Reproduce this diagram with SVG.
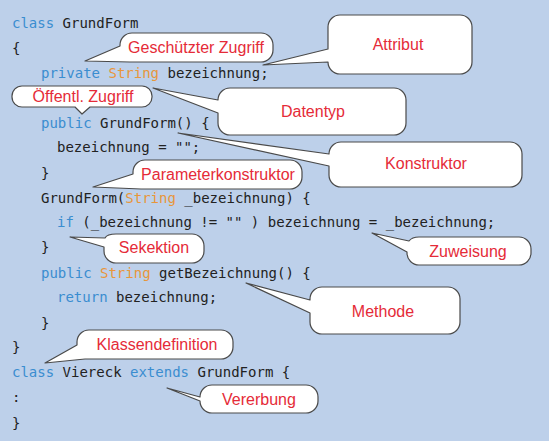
<svg xmlns="http://www.w3.org/2000/svg" width="549" height="441" viewBox="0 0 549 441">
<style>
.code{font-family:"DejaVu Sans Mono","Liberation Mono",monospace;font-size:14px;fill:#222;white-space:pre}
.kw{fill:#3a8dd0}
.ty{fill:#e8963a}
.bub{fill:#fff;stroke:#4a4a4a;stroke-width:1.2;stroke-linejoin:round}
.lbl{font-family:"Liberation Sans",Arial,sans-serif;font-size:16px;fill:#e52b38;text-anchor:middle}
</style>
<rect width="549" height="441" fill="#bdd0ea"/>
<g id="code">
<text class="code" x="12" y="28"><tspan class="kw">class</tspan> GrundForm</text>
<text class="code" x="12" y="53">{</text>
<text class="code" x="41" y="78"><tspan class="kw">private</tspan> <tspan class="ty">String</tspan> bezeichnung;</text>
<text class="code" x="41" y="128"><tspan class="kw">public</tspan> GrundForm() {</text>
<text class="code" x="57" y="152">bezeichnung = "";</text>
<text class="code" x="41" y="178">}</text>
<text class="code" x="41" y="203">GrundForm(<tspan class="ty">String</tspan> _bezeichnung) {</text>
<text class="code" x="57" y="227"><tspan class="kw">if</tspan> (_bezeichnung != "" ) bezeichnung = _bezeichnung;</text>
<text class="code" x="41" y="252">}</text>
<text class="code" x="41" y="278"><tspan class="kw">public</tspan> <tspan class="ty">String</tspan> getBezeichnung() {</text>
<text class="code" x="57" y="302"><tspan class="kw">return</tspan> bezeichnung;</text>
<text class="code" x="41" y="328">}</text>
<text class="code" x="12" y="352">}</text>
<text class="code" x="12" y="377"><tspan class="kw">class</tspan> Viereck <tspan class="kw">extends</tspan> GrundForm {</text>
<text class="code" x="12" y="402">:</text>
<text class="code" x="12" y="428">}</text>
</g>
<g id="connectors"></g>
<g id="geschuetzter-zugriff">
<path class="bub" d="M132,33 H261 A12,12 0 0 1 273,45 V50 A12,12 0 0 1 261,62 H130 L85,61 L120,46 V45 A12,12 0 0 1 132,33 Z"/>
<text class="lbl" x="196" y="53">Geschützter Zugriff</text>
</g>
<g id="attribut">
<path class="bub" d="M340,15 H460 A12,12 0 0 1 472,27 V62 A12,12 0 0 1 460,74 H340 A12,12 0 0 1 328,62 L263,65 L328,49 V27 A12,12 0 0 1 340,15 Z"/>
<text class="lbl" x="398" y="50">Attribut</text>
</g>
<g id="oeffentl-zugriff">
<path class="bub" d="M22,86 H142 A10,10 0 0 1 152,96 V97 A10,10 0 0 1 142,107 H90 L82,114 L75,107 H22 A10,10 0 0 1 12,97 V96 A10,10 0 0 1 22,86 Z"/>
<text class="lbl" x="83" y="102">Öffentl. Zugriff</text>
</g>
<g id="datentyp">
<path class="bub" d="M230,88 H394 A12,12 0 0 1 406,100 V123 A12,12 0 0 1 394,135 H230 A12,12 0 0 1 218,123 V113 L153,88 L218,100 A12,12 0 0 1 230,88 Z"/>
<text class="lbl" x="313" y="117">Datentyp</text>
</g>
<g id="konstruktor">
<path class="bub" d="M341,142 H510 A12,12 0 0 1 522,154 V175 A12,12 0 0 1 510,187 H341 A12,12 0 0 1 329,175 V166 L178,133 L329,154 A12,12 0 0 1 341,142 Z"/>
<text class="lbl" x="426" y="169">Konstruktor</text>
</g>
<g id="parameterkonstruktor">
<path class="bub" d="M145,160 H290 A12,12 0 0 1 302,172 V177 A12,12 0 0 1 290,189 H141 L93,187 L133,174 V172 A12,12 0 0 1 145,160 Z"/>
<text class="lbl" x="218" y="180">Parameterkonstruktor</text>
</g>
<g id="sekektion">
<path class="bub" d="M116,234 H192 A12,12 0 0 1 204,246 V251 A12,12 0 0 1 192,263 H116 A12,12 0 0 1 104,251 V247 L70,237 L105,238 Q107,234 116,234 Z"/>
<text class="lbl" x="154" y="253">Sekektion</text>
</g>
<g id="zuweisung">
<path class="bub" d="M419,237 H519 A12,12 0 0 1 531,249 V253 A12,12 0 0 1 519,265 H419 A12,12 0 0 1 407,253 V252 L372,233 L409,241 Q412,237 419,237 Z"/>
<text class="lbl" x="468" y="257">Zuweisung</text>
</g>
<g id="methode">
<path class="bub" d="M322,287 H448 A12,12 0 0 1 460,299 V322 A12,12 0 0 1 448,334 H322 A12,12 0 0 1 310,322 V313 L246,283 L310,300 V299 A12,12 0 0 1 322,287 Z"/>
<text class="lbl" x="383" y="317">Methode</text>
</g>
<g id="klassendefinition">
<path class="bub" d="M89,330 H221 A12,12 0 0 1 233,342 V347 A12,12 0 0 1 221,359 H85 L45,363 L77,345 V342 A12,12 0 0 1 89,330 Z"/>
<text class="lbl" x="157" y="350">Klassendefinition</text>
</g>
<g id="vererbung">
<path class="bub" d="M212,385 H306 A12,12 0 0 1 318,397 V401 A12,12 0 0 1 306,413 H212 A12,12 0 0 1 200,401 L167,388 L200,397 A12,12 0 0 1 212,385 Z"/>
<text class="lbl" x="259" y="405">Vererbung</text>
</g>
</svg>
